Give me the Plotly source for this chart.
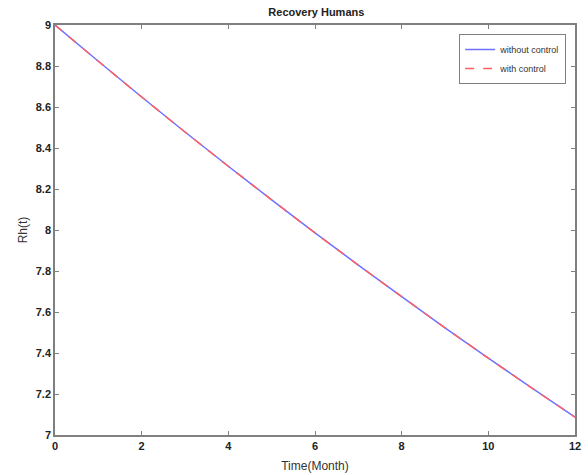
import plotly.graph_objects as go

t = [0, 1, 2, 3, 4, 5, 6, 7, 8, 9, 10, 11, 12]
rh_without = [9.000, 8.823, 8.649, 8.478, 8.311, 8.147, 7.986, 7.829, 7.675, 7.523, 7.375, 7.230, 7.087]
rh_with = [9.000, 8.823, 8.649, 8.478, 8.311, 8.147, 7.986, 7.829, 7.675, 7.523, 7.375, 7.230, 7.087]

fig = go.Figure()
fig.add_trace(go.Scatter(x=t, y=rh_without, mode="lines", name="without control",
                         line=dict(color="#7070ff", width=1.5, shape="spline")))
fig.add_trace(go.Scatter(x=t, y=rh_with, mode="lines", name="with control",
                         line=dict(color="#ff6060", width=1.5, dash="dash", shape="spline")))

axis_common = dict(showline=True, linecolor="#808080", linewidth=1.5, mirror="ticks",
                   ticks="inside", ticklen=4, tickcolor="#808080", showgrid=False,
                   zeroline=False, automargin=False,
                   tickfont=dict(family="Arial, Liberation Sans, sans-serif", size=11,
                                 color="#222", weight="bold"))

fig.update_layout(
    width=588, height=475,
    margin=dict(l=55, r=13, t=25, b=40),
    paper_bgcolor="white", plot_bgcolor="white",
    title=dict(text="<b>Recovery Humans</b>", x=0.538, xanchor="center", y=0.975, yanchor="middle",
               font=dict(family="Arial, Liberation Sans, sans-serif", size=11, color="#222")),
    xaxis=dict(range=[0, 12], tickvals=[0, 2, 4, 6, 8, 10, 12],
               title=dict(text="Time(Month)", standoff=11,
                          font=dict(family="Arial, Liberation Sans, sans-serif", size=12, color="#333")),
               **axis_common),
    yaxis=dict(range=[7, 9], tickvals=[7, 7.2, 7.4, 7.6, 7.8, 8, 8.2, 8.4, 8.6, 8.8, 9],
               ticktext=["7", "7.2", "7.4", "7.6", "7.8", "8", "8.2", "8.4", "8.6", "8.8", "9"],
               title=dict(text="Rh(t)", standoff=6,
                          font=dict(family="Arial, Liberation Sans, sans-serif", size=12, color="#333")),
               **axis_common),
    legend=dict(x=0.983, y=0.978, xanchor="right", yanchor="top",
                bordercolor="#808080", borderwidth=1, bgcolor="white",
                font=dict(family="Arial, Liberation Sans, sans-serif", size=9, color="#333"),
                tracegroupgap=0, itemwidth=30),
    showlegend=True,
)

fig.write_html("out.html")
